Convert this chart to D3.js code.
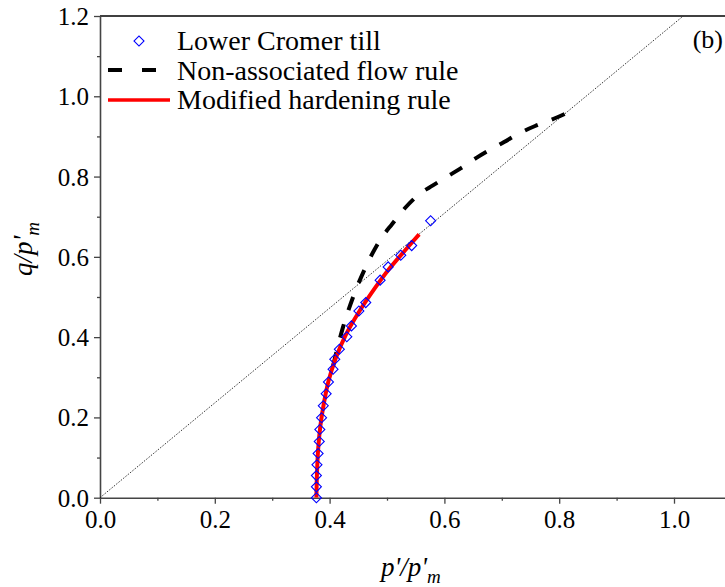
<!DOCTYPE html>
<html lang="en">
<head>
    <title>q/p'm vs p'/p'm</title>
    <script src="https://d3js.org/d3.v7.min.js"></script>
    <style>
        body { margin: 0; background: #fff; }
        svg text { font-family: "Liberation Serif", "Tinos", "DejaVu Serif", serif !important; }
    </style>
</head>
<body>

<script>
    // measured points, Lower Cromer till
    const testP = [0.377, 0.377, 0.377, 0.378, 0.380, 0.382, 0.383, 0.386, 0.389, 0.394, 0.398, 0.406,
                   0.409, 0.417, 0.430, 0.438, 0.451, 0.463, 0.488, 0.502, 0.524, 0.543, 0.576];
    const testQ = [0.000, 0.027, 0.055, 0.082, 0.110, 0.140, 0.170, 0.199, 0.229, 0.259, 0.288, 0.320,
                   0.345, 0.370, 0.401, 0.428, 0.465, 0.486, 0.542, 0.575, 0.604, 0.628, 0.690];

    // non-associated flow rule
    const nafP = [0.406, 0.423, 0.441, 0.463, 0.488, 0.509, 0.531, 0.556, 0.580, 0.606, 0.629,
                  0.655, 0.676, 0.704, 0.728, 0.758, 0.780, 0.813];
    const nafQ = [0.328, 0.423, 0.500, 0.575, 0.642, 0.682, 0.721, 0.756, 0.778, 0.801, 0.821,
                  0.846, 0.864, 0.886, 0.906, 0.926, 0.938, 0.958];

    // modified hardening rule
    const mhrP = [0.377, 0.378, 0.380, 0.384, 0.390, 0.398, 0.410, 0.428, 0.450, 0.478, 0.505, 0.532, 0.556];
    const mhrQ = [0.000, 0.060, 0.120, 0.180, 0.235, 0.290, 0.345, 0.405, 0.460, 0.520, 0.572, 0.617, 0.656];

    // critical state line slope
    const M = 1.181;

    const xTicks = [0, 0.2, 0.4, 0.6, 0.8, 1.0];
    const yTicks = [0, 0.2, 0.4, 0.6, 0.8, 1.0, 1.2];
    const minorTicks = [0.1, 0.3, 0.5, 0.7, 0.9, 1.1];

    const legendLabels = ["Lower Cromer till", "Non-associated flow rule", "Modified hardening rule"];

    const W = 725, H = 587;
    const serif = "'Liberation Serif', Tinos, 'DejaVu Serif', serif";
    const x = d3.scaleLinear().domain([0, 1.2]).range([100, 788.8]);
    const y = d3.scaleLinear().domain([0, 1.2]).range([497.7, 16]);

    const svg = d3.select("body").append("svg")
            .attr("width", W).attr("height", H)
            .attr("font-family", serif);

    svg.append("clipPath").attr("id", "plot")
            .append("rect")
            .attr("x", x(0)).attr("y", y(1.2))
            .attr("width", x(1.2) - x(0)).attr("height", y(0) - y(1.2));

    // top frame line
    svg.append("line")
            .attr("x1", x(0)).attr("x2", x(1.2))
            .attr("y1", y(1.2)).attr("y2", y(1.2))
            .attr("stroke", "#000").attr("stroke-width", 1.5);

    const fmt = d3.format(".1f");
    const axisColor = "#444";

    function styleAxis(g) {
        g.attr("font-family", serif).attr("font-size", 25);
        g.select(".domain").attr("stroke", axisColor).attr("stroke-width", 1.6);
        g.selectAll(".tick line").attr("stroke", axisColor).attr("stroke-width", 1.3);
        g.selectAll(".tick text").attr("fill", "#000");
    }

    // minor ticks
    svg.append("g").attr("transform", `translate(0,${y(0)})`)
            .call(d3.axisBottom(x).tickValues(minorTicks).tickSize(3).tickFormat("").tickSizeOuter(0))
            .call(g => { g.select(".domain").remove(); g.selectAll("line").attr("stroke", axisColor).attr("stroke-width", 1.3); });
    svg.append("g").attr("transform", `translate(${x(0)},0)`)
            .call(d3.axisLeft(y).tickValues(minorTicks).tickSize(3).tickFormat("").tickSizeOuter(0))
            .call(g => { g.select(".domain").remove(); g.selectAll("line").attr("stroke", axisColor).attr("stroke-width", 1.3); });

    svg.append("g").attr("transform", `translate(0,${y(0)})`)
            .call(d3.axisBottom(x).tickValues(xTicks).tickFormat(fmt).tickSize(6).tickSizeOuter(0).tickPadding(7))
            .call(styleAxis);

    svg.append("g").attr("transform", `translate(${x(0)},0)`)
            .call(d3.axisLeft(y).tickValues(yTicks).tickFormat(fmt).tickSize(6).tickSizeOuter(0).tickPadding(5))
            .call(styleAxis)
            .call(g => g.selectAll(".tick text").attr("dy", "0.34em"));

    const plot = svg.append("g").attr("clip-path", "url(#plot)");

    // CSL: q = M p
    plot.append("line")
            .attr("x1", x(0)).attr("y1", y(0))
            .attr("x2", x(1.2 / M)).attr("y2", y(1.2))
            .attr("stroke", "#000").attr("stroke-width", 0.8)
            .attr("stroke-dasharray", "1.5,1.5");

    const line = d3.line().x(d => x(d[0])).y(d => y(d[1])).curve(d3.curveMonotoneX);

    plot.append("path")
            .datum(d3.zip(nafP, nafQ))
            .attr("d", line)
            .attr("fill", "none").attr("stroke", "#000")
            .attr("stroke-width", 4).attr("stroke-dasharray", "14,15");

    plot.append("path")
            .datum(d3.zip(mhrP, mhrQ))
            .attr("d", d3.line().x(d => x(d[0])).y(d => y(d[1])).curve(d3.curveCatmullRom))
            .attr("fill", "none").attr("stroke", "#ff0000")
            .attr("stroke-width", 4);

    const diamond = d3.symbol().type(d3.symbolSquare).size(50)();

    svg.append("g").selectAll("path")
            .data(d3.zip(testP, testQ)).enter()
            .append("path")
            .attr("d", diamond)
            .attr("transform", d => `translate(${x(d[0])},${y(d[1])}) rotate(45)`)
            .attr("fill", "none").attr("stroke", "#0000ff").attr("stroke-width", 1.1);

    // legend
    const lg = svg.append("g");
    lg.append("path").attr("d", diamond)
            .attr("transform", "translate(139,41) rotate(45)")
            .attr("fill", "none").attr("stroke", "#0000ff").attr("stroke-width", 1.1);
    lg.append("line").attr("x1", 108).attr("x2", 157).attr("y1", 70).attr("y2", 70)
            .attr("stroke", "#000").attr("stroke-width", 4).attr("stroke-dasharray", "14,20");
    lg.append("line").attr("x1", 108).attr("x2", 170).attr("y1", 100).attr("y2", 100)
            .attr("stroke", "#ff0000").attr("stroke-width", 3.5);
    lg.selectAll("text")
            .data(legendLabels).enter()
            .append("text")
            .attr("x", 177)
            .attr("y", (d, i) => 50 + i * 29.6)
            .attr("font-size", 28)
            .text(d => d);

    svg.append("text")
            .attr("x", 723).attr("y", 48)
            .attr("text-anchor", "end")
            .attr("font-size", 26)
            .text("(b)");

    // axis titles
    const xt = svg.append("text")
            .attr("x", 381).attr("y", 576)
            .attr("font-size", 27).attr("font-style", "italic");
    xt.append("tspan").text("p'/p'");
    xt.append("tspan").attr("dy", 7).attr("font-size", 19).text("m");

    const yt = svg.append("text")
            .attr("transform", "translate(32,276) rotate(-90)")
            .attr("font-size", 27).attr("font-style", "italic");
    yt.append("tspan").text("q/p'");
    yt.append("tspan").attr("dy", 7).attr("font-size", 19).text("m");
</script>

</body>
</html>
